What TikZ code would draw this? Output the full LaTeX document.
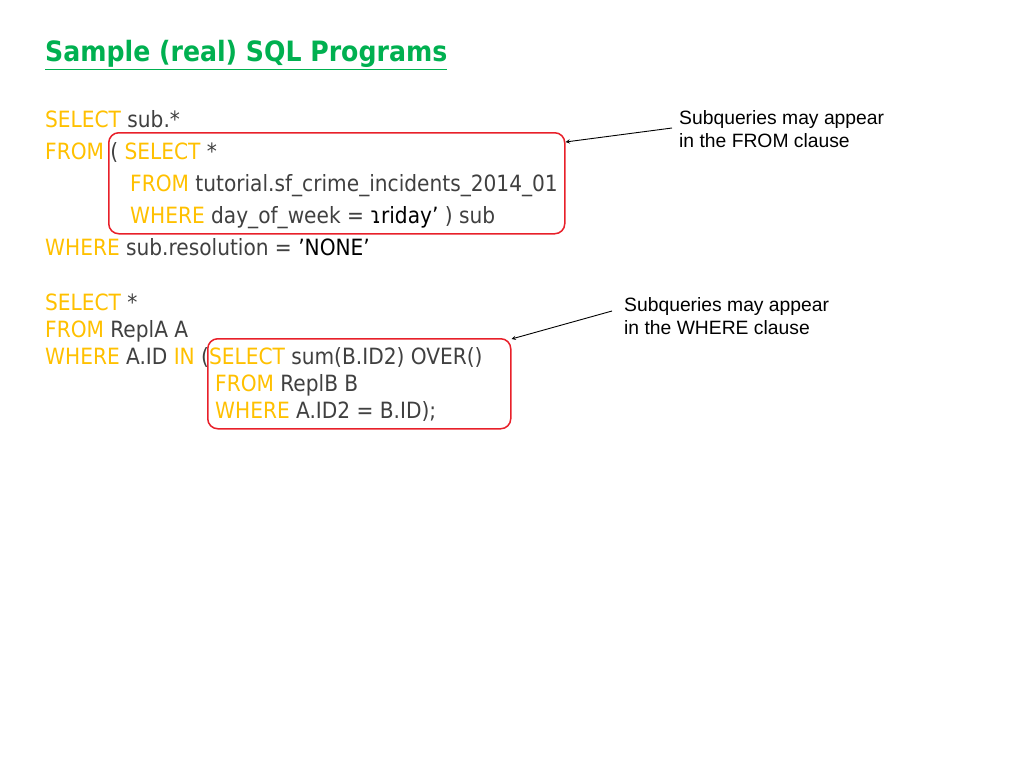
\documentclass[tikz,border=0pt]{standalone}
\usepackage{fontspec}
\setmainfont{DejaVu Sans Condensed}
\newfontfamily\annfont{Liberation Sans}
\definecolor{kw}{HTML}{FFC000}
\definecolor{tx}{HTML}{404040}
\definecolor{ttl}{HTML}{00B050}
\definecolor{rbox}{HTML}{E8202A}
\newcommand\Kw[1]{\textcolor{kw}{#1}}
\newcommand\Str[1]{\textcolor{black}{\char"27#1\char"27}}
\begin{document}
\begin{tikzpicture}[x=1pt,y=-1pt,
  code/.style={anchor=base west,inner sep=0pt,font=\fontsize{22.4}{26}\selectfont,text=tx},
  ann/.style={anchor=base west,inner sep=0pt,font=\annfont\fontsize{19.3}{22}\selectfont,text=black},
  hbox/.style={draw=rbox,line width=1.5pt,rounded corners=10pt},
  arr/.style={->,>=stealth,line width=0.9pt}]
\useasboundingbox (0,0) rectangle (1024,768);
\node[anchor=base west,inner sep=0pt,font=\bfseries\fontsize{28}{32}\selectfont,text=ttl] (title) at (45,62) {\underline{Sample (real) SQL Programs}};
\node[code] (l1) at (45,127) {\Kw{SELECT} sub.*};
\node[code] (l2) at (45,159) {\Kw{FROM} ( \Kw{SELECT} *};
\node[code] (l3) at (130,191) {\Kw{FROM} tutorial.sf\_crime\_incidents\_2014\_01};
\node[code] (l4) at (130,223) {\Kw{WHERE} day\_of\_week = \Str{Friday} ) sub};
\node[code] (l5) at (45,255) {\Kw{WHERE} sub.resolution = \Str{NONE}};
\node[code] (m1) at (45,310) {\Kw{SELECT} *};
\node[code] (m2) at (45,337) {\Kw{FROM} ReplA A};
\node[code] (m3) at (45,364) {\Kw{WHERE} A.ID \Kw{IN} (\Kw{SELECT} sum(B.ID2) OVER()};
\node[code] (m4) at (215,391) {\Kw{FROM} ReplB B};
\node[code] (m5) at (215,418) {\Kw{WHERE} A.ID2 = B.ID);};
\node[hbox,minimum width=456pt,minimum height=101pt,anchor=north west] (b1) at (108,132) {};
\node[hbox,minimum width=303pt,minimum height=90pt,anchor=north west] (b2) at (207,338) {};
\node[ann] (a1) at (679,124) {Subqueries may appear};
\node[ann] (a1b) at (679,147) {in the FROM clause};
\node[ann] (a2) at (624,311) {Subqueries may appear};
\node[ann] (a2b) at (624,334) {in the WHERE clause};
\coordinate (s1) at (672,128);
\coordinate (s2) at (612,311);
\draw[arr] (s1) -- (b1.north east |- 0,142);
\draw[arr] (s2) -- (b2.north east |- 0,339);
\end{tikzpicture}
\end{document}
